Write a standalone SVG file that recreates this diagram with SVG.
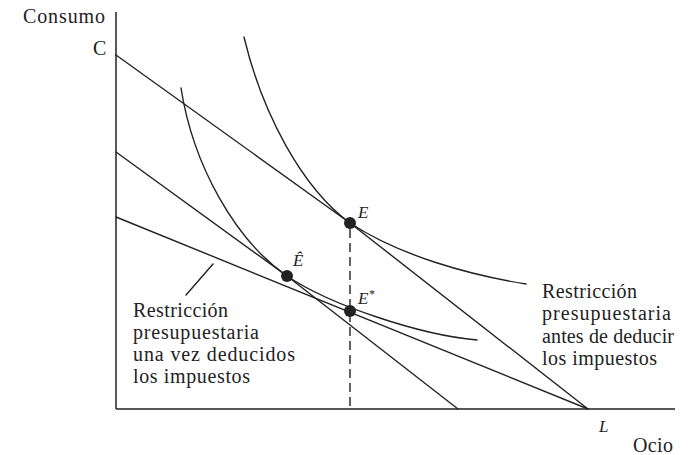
<svg xmlns="http://www.w3.org/2000/svg" width="698" height="455" viewBox="0 0 698 455">
<style>
.ln{fill:none;stroke:#222;stroke-width:1.4;stroke-linecap:round;stroke-linejoin:round}
.ax{fill:none;stroke:#222;stroke-width:1.5}
.dash{fill:none;stroke:#222;stroke-width:1.4;stroke-dasharray:9,5}
.dot{fill:#222}
.t{font-family:"Liberation Serif","Times New Roman",serif;font-size:20px;fill:#222}
.i{font-family:"Liberation Serif","Times New Roman",serif;font-size:17px;font-style:italic;fill:#222}
</style>
<rect width="698" height="455" fill="#fff"/>
<g id="axes">
<line class="ax" x1="116" y1="12" x2="116" y2="409"/>
<line class="ax" x1="116" y1="409" x2="675" y2="409"/>
<text class="t" x="23" y="23" textLength="82" lengthAdjust="spacing">Consumo</text>
<text class="t" x="93" y="55">C</text>
<text class="i" x="599" y="432">L</text>
<text class="t" x="633" y="452" textLength="40" lengthAdjust="spacing">Ocio</text>
</g>
<g id="connectors">
<polyline id="budget-before" class="ln" points="116,55 350,223 588,409"/>
<polyline id="budget-compensated" class="ln" points="116,152 287,276 458,409"/>
<line id="budget-after" class="ln" x1="116" y1="217" x2="588" y2="409"/>
<path id="indiff-high" class="ln" d="M244,37 C262,113 302,188 350,223 C400,256 470,275 526,284"/>
<path id="indiff-low" class="ln" d="M181,88 C193,165 235,240 287,276 C330,305 420,335 477,340"/>
<line id="drop" class="dash" x1="350" y1="229" x2="350" y2="409"/>
<line id="pointer" class="ln" x1="186" y1="295" x2="213" y2="264"/>
</g>
<g id="point-E">
<circle class="dot" cx="350" cy="223" r="6"/>
<text class="i" x="358" y="218">E</text>
</g>
<g id="point-Ehat">
<circle class="dot" cx="287" cy="276" r="6"/>
<text class="i" x="293" y="266">Ê</text>
</g>
<g id="point-Estar">
<circle class="dot" cx="350" cy="311" r="6"/>
<text class="i" x="358" y="304">E<tspan font-size="12" dy="-6">*</tspan></text>
</g>
<g id="label-after">
<text class="t" x="133" y="317" textLength="95" lengthAdjust="spacing">Restricción</text>
<text class="t" x="133" y="339" textLength="126" lengthAdjust="spacing">presupuestaria</text>
<text class="t" x="133" y="361" textLength="162" lengthAdjust="spacing">una vez deducidos</text>
<text class="t" x="133" y="383" textLength="117" lengthAdjust="spacing">los impuestos</text>
</g>
<g id="label-before">
<text class="t" x="542" y="298" textLength="95" lengthAdjust="spacing">Restricción</text>
<text class="t" x="542" y="320" textLength="129" lengthAdjust="spacing">presupuestaria</text>
<text class="t" x="542" y="343" textLength="132" lengthAdjust="spacing">antes de deducir</text>
<text class="t" x="542" y="365" textLength="115" lengthAdjust="spacing">los impuestos</text>
</g>
</svg>
